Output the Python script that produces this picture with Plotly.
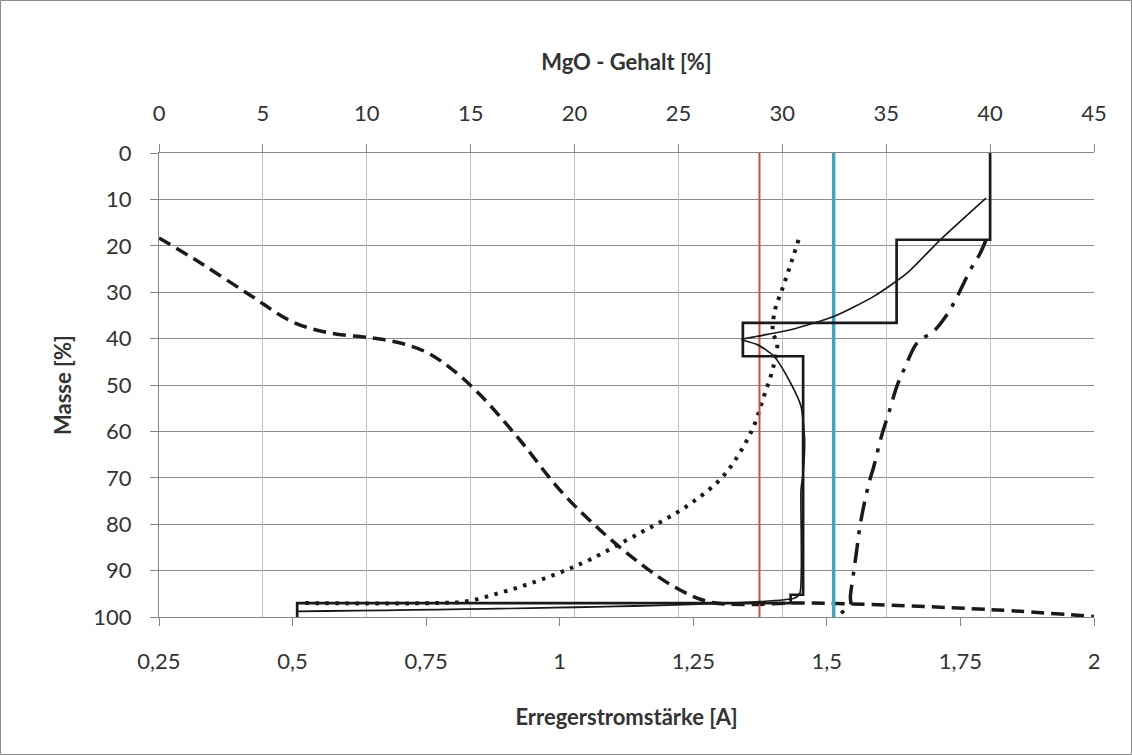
import plotly.graph_objects as go

# ---------------- data ----------------
# bottom axis: Erregerstromstärke [A]
bottom_ticks = [0.25, 0.5, 0.75, 1.0, 1.25, 1.5, 1.75, 2.0]
bottom_ticktext = ["0,25", "0,5", "0,75", "1", "1,25", "1,5", "1,75", "2"]
# top axis: MgO - Gehalt [%]
top_ticks = [0, 5, 10, 15, 20, 25, 30, 35, 40, 45]
y_ticks = [0, 10, 20, 30, 40, 50, 60, 70, 80, 90, 100]

# dashed curve (bottom axis)
dashed_x = [0.25, 0.325, 0.42, 0.5, 0.57, 0.645, 0.70, 0.75, 0.795, 0.85, 0.925, 1.0,
            1.075, 1.15, 1.213, 1.275, 1.338, 1.438, 1.519, 1.806, 2.0]
dashed_y = [18.3, 23.5, 30.6, 36.4, 38.8, 39.8, 40.9, 42.9, 46.3, 52.0, 61.8, 72.6,
            81.2, 88.4, 93.4, 96.6, 97.3, 97.0, 97.1, 98.4, 99.9]

# dotted curve (bottom axis)
dotted_x = [1.447, 1.435, 1.416, 1.403, 1.399, 1.407, 1.400, 1.382, 1.363, 1.335, 1.300,
            1.247, 1.197, 1.150, 1.057, 1.001, 0.944, 0.888, 0.826, 0.763, 0.520]
dotted_y = [18.7, 23.0, 29.5, 33.8, 38.8, 40.9, 46.0, 52.5, 58.9, 65.0, 70.4,
            75.4, 79.0, 81.9, 87.6, 90.4, 92.8, 94.8, 96.6, 97.0, 97.0]

# dash-dot curve (bottom axis)
dashdot_x = [1.798, 1.787, 1.769, 1.741, 1.725, 1.700, 1.669, 1.647, 1.631, 1.616, 1.603,
             1.588, 1.578, 1.563, 1.556, 1.550, 1.544, 1.544, 1.522]
dashdot_y = [18.7, 21.6, 25.1, 31.6, 34.8, 38.4, 40.9, 46.0, 50.3, 56.0, 60.7,
             67.5, 71.5, 79.7, 85.5, 90.5, 95.6, 97.3, 99.5]

# step line (top axis, MgO)
step_x = [40.0, 40.0, 35.5, 35.5, 28.1, 28.1, 31.0, 31.0, 30.4, 30.4, 6.65, 6.65]
step_y = [0.0, 18.7, 18.7, 36.6, 36.6, 43.8, 43.8, 95.2, 95.2, 97.0, 97.0, 100.0]

# smooth fitted line (top axis, MgO)
smooth_x = [39.8, 37.6, 36.0, 34.4, 32.5, 30.4, 28.8, 28.05, 28.8, 29.6, 30.4, 30.9,
            31.07, 31.0, 30.9, 30.85, 30.6, 6.65]
smooth_y = [9.7, 18.7, 25.9, 30.9, 35.2, 38.1, 39.5, 40.2, 41.3, 43.8, 49.6, 54.6,
            61.8, 69.0, 72.6, 94.8, 95.9, 98.8]

# vertical reference lines (top axis, MgO)
red_mgo = 28.9
blue_mgo = 32.47
line_y = [0, 100]

# ---------------- figure ----------------
FONT = "Lato, 'Open Sans', sans-serif"
TXT = "#333333"
fig = go.Figure()

fig.add_trace(go.Scatter(x=[red_mgo, red_mgo], y=line_y, xaxis="x2", yaxis="y", mode="lines",
                         line=dict(color="#C0504D", width=2)))
fig.add_trace(go.Scatter(x=[blue_mgo, blue_mgo], y=line_y, xaxis="x2", yaxis="y", mode="lines",
                         line=dict(color="#41A3BD", width=3.5)))
fig.add_trace(go.Scatter(x=dashed_x, y=dashed_y, mode="lines", line_shape="spline",
                         line=dict(color="#1a1a1a", width=3.5, dash="13px,7px")))
fig.add_trace(go.Scatter(x=dotted_x, y=dotted_y, mode="lines", line_shape="spline",
                         line=dict(color="#1a1a1a", width=4, dash="3.5px,6.5px")))
fig.add_trace(go.Scatter(x=dashdot_x, y=dashdot_y, mode="lines", line_shape="spline",
                         line=dict(color="#1a1a1a", width=3.5, dash="20px,9px,4px,9px")))
fig.add_trace(go.Scatter(x=step_x, y=step_y, xaxis="x2", yaxis="y", mode="lines",
                         line=dict(color="#1a1a1a", width=2.7)))
fig.add_trace(go.Scatter(x=smooth_x, y=smooth_y, xaxis="x2", yaxis="y", mode="lines",
                         line_shape="spline", line=dict(color="#1a1a1a", width=1.7, smoothing=0.6)))

L, R, T, B = 159, 38, 153, 138
PW = 1132 - L - R
PH = 755 - T - B

axis_common = dict(showline=True, linecolor="#868686", linewidth=1, ticks="outside",
                   ticklen=8, tickcolor="#868686", zeroline=False,
                   tickfont=dict(family=FONT, size=22, color=TXT))

fig.update_layout(
    width=1132, height=755,
    margin=dict(l=L, r=R, t=T, b=B),
    paper_bgcolor="white", plot_bgcolor="white",
    showlegend=False,
    xaxis=dict(range=[0.25, 2], tickvals=bottom_ticks, ticktext=bottom_ticktext,
               showgrid=False, ticklabelstandoff=17,
               title=dict(text="<b>Erregerstromstärke [A]</b>", standoff=36,
                          font=dict(family=FONT, size=22, color=TXT)),
               **axis_common),
    xaxis2=dict(range=[0, 45], tickvals=top_ticks, overlaying="x", side="top",
                showgrid=True, gridcolor="#BFBFBF", gridwidth=1, ticklabelstandoff=14,
                title=dict(text="<b>MgO - Gehalt [%]</b>", standoff=22,
                           font=dict(family=FONT, size=22, color=TXT)),
                **axis_common),
    yaxis=dict(range=[100, 0], tickvals=y_ticks, showgrid=True, gridcolor="#8C8C8C",
               gridwidth=1, ticklabelstandoff=14,
               title=dict(text="<b>Masse [%]</b>", standoff=15,
                          font=dict(family=FONT, size=22, color=TXT)),
               **axis_common),
    shapes=[dict(type="rect", xref="paper", yref="paper",
                 x0=(0.5 - L) / PW, x1=(1131.5 - L) / PW,
                 y0=(755 - B - 754.5) / PH, y1=(755 - B - 0.5) / PH,
                 line=dict(color="#8C8C8C", width=1), fillcolor="rgba(0,0,0,0)", layer="below")],
)

fig.write_html("out.html")
